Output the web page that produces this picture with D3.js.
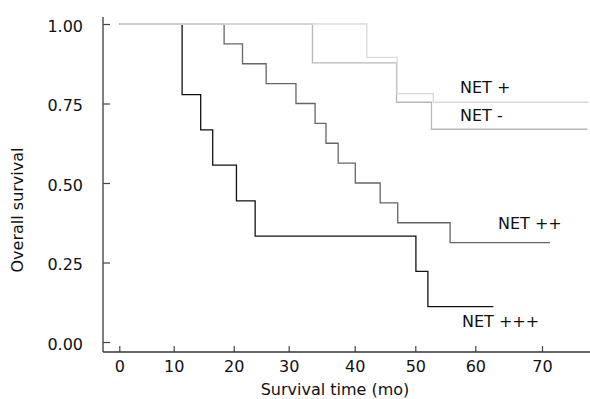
<!DOCTYPE html>
<html lang="en">
<head>
  <meta charset="UTF-8">
  <title>Overall survival by NET grade</title>
  <script src="https://d3js.org/d3.v7.min.js"></script>
  <style>
    body { margin: 0; background: #fff; }
    text { font-family: "DejaVu Sans", Verdana, sans-serif; font-size: 16px; fill: #111; }
  </style>
</head>
<body>
<script>
  // Kaplan-Meier curves (time in months, survival after each step)
  const netPlusTime   = [0, 42.0, 47.0, 53.0, 77.0];
  const netPlusSurv   = [1, 0.895, 0.781, 0.754, 0.754];

  const netMinusTime  = [0, 33.6, 46.9, 52.7, 76.8];
  const netMinusSurv  = [1, 0.878, 0.754, 0.669, 0.669];

  const net2Time = [0, 18.4, 21.6, 25.9, 31.1, 34.0, 35.65, 37.5, 40.1, 44.2, 47.1, 55.8, 71.2];
  const net2Surv = [1, 0.9375, 0.875, 0.8125, 0.75, 0.6875, 0.625, 0.5625, 0.5, 0.4375, 0.375, 0.3125, 0.3125];

  const net3Time = [0, 11.4, 14.5, 16.5, 20.5, 23.9, 50.1, 52.1, 62.7];
  const net3Surv = [1, 0.778, 0.667, 0.556, 0.444, 0.333, 0.222, 0.111, 0.111];

  const xTicks = [0, 10, 20, 30, 40, 50, 60, 70];
  const yTicks = [0, 0.25, 0.5, 0.75, 1];

  const width = 590;
  const height = 399;

  const svg = d3.select("body")
    .append("svg")
    .attr("width", width)
    .attr("height", height);

  // the original axis is a bit uneven, so map each tick to where it sits
  const xScale = d3.scaleLinear()
    .domain(xTicks)
    .range([119.3, 173.7, 233.7, 288.7, 354.7, 415.3, 475.3, 542]);

  const yScale = d3.scaleLinear()
    .domain([0, 1])
    .range([342, 24]);

  const axisLeftX = 103;
  const axisBottomY = 352;

  // x axis
  const gx = svg.append("g")
    .attr("transform", `translate(0, ${axisBottomY})`)
    .call(d3.axisBottom(xScale).tickValues(xTicks).tickSizeInner(-6).tickSizeOuter(0).tickPadding(8.5));
  gx.select(".domain").remove();
  gx.selectAll(".tick line").attr("stroke", "#444").attr("stroke-width", 1.2);
  gx.selectAll(".tick text").style("font-size", "16px");

  // y axis
  const gy = svg.append("g")
    .attr("transform", `translate(${axisLeftX}, 0)`)
    .call(d3.axisLeft(yScale).tickValues(yTicks).tickFormat(d3.format(".2f"))
      .tickSizeInner(-7).tickSizeOuter(0).tickPadding(20));
  gy.select(".domain").remove();
  gy.selectAll(".tick line").attr("stroke", "#444").attr("stroke-width", 1.2);
  gy.selectAll(".tick text").attr("dy", "0.46em").style("font-size", "16px");

  // axis lines
  svg.append("line")
    .attr("x1", axisLeftX).attr("x2", axisLeftX)
    .attr("y1", yScale(1) - 7).attr("y2", axisBottomY)
    .attr("stroke", "#555").attr("stroke-width", 1.5);
  svg.append("line")
    .attr("x1", axisLeftX).attr("x2", width)
    .attr("y1", axisBottomY).attr("y2", axisBottomY)
    .attr("stroke", "#333").attr("stroke-width", 1.5);

  // curves
  const series = [
    { name: "NET +++", time: net3Time, surv: net3Surv, color: "#111", label: [462, 327] },
    { name: "NET ++", time: net2Time, surv: net2Surv, color: "#666", label: [498, 229] },
    { name: "NET -", time: netMinusTime, surv: netMinusSurv, color: "#b8b8b8", label: [460, 121] },
    { name: "NET +", time: netPlusTime, surv: netPlusSurv, color: "#dadada", label: [460, 93] }
  ];

  const line = d3.line()
    .x(d => xScale(d[0]))
    .y(d => yScale(d[1]))
    .curve(d3.curveStepAfter);

  svg.selectAll("path.km")
    .data(series)
    .enter()
    .append("path")
    .attr("class", "km")
    .attr("d", s => line(s.time.map((t, i) => [t, s.surv[i]])))
    .style("fill", "none")
    .style("stroke", s => s.color)
    .style("stroke-width", 1.3);

  svg.selectAll("text.lbl")
    .data(series)
    .enter()
    .append("text")
    .attr("class", "lbl")
    .attr("x", s => s.label[0])
    .attr("y", s => s.label[1])
    .text(s => s.name);

  // titles
  svg.append("text")
    .attr("x", 335)
    .attr("y", 395)
    .style("text-anchor", "middle")
    .text("Survival time (mo)");

  svg.append("text")
    .attr("transform", "translate(23, 210) rotate(-90)")
    .style("text-anchor", "middle")
    .text("Overall survival");
</script>
</body>
</html>
